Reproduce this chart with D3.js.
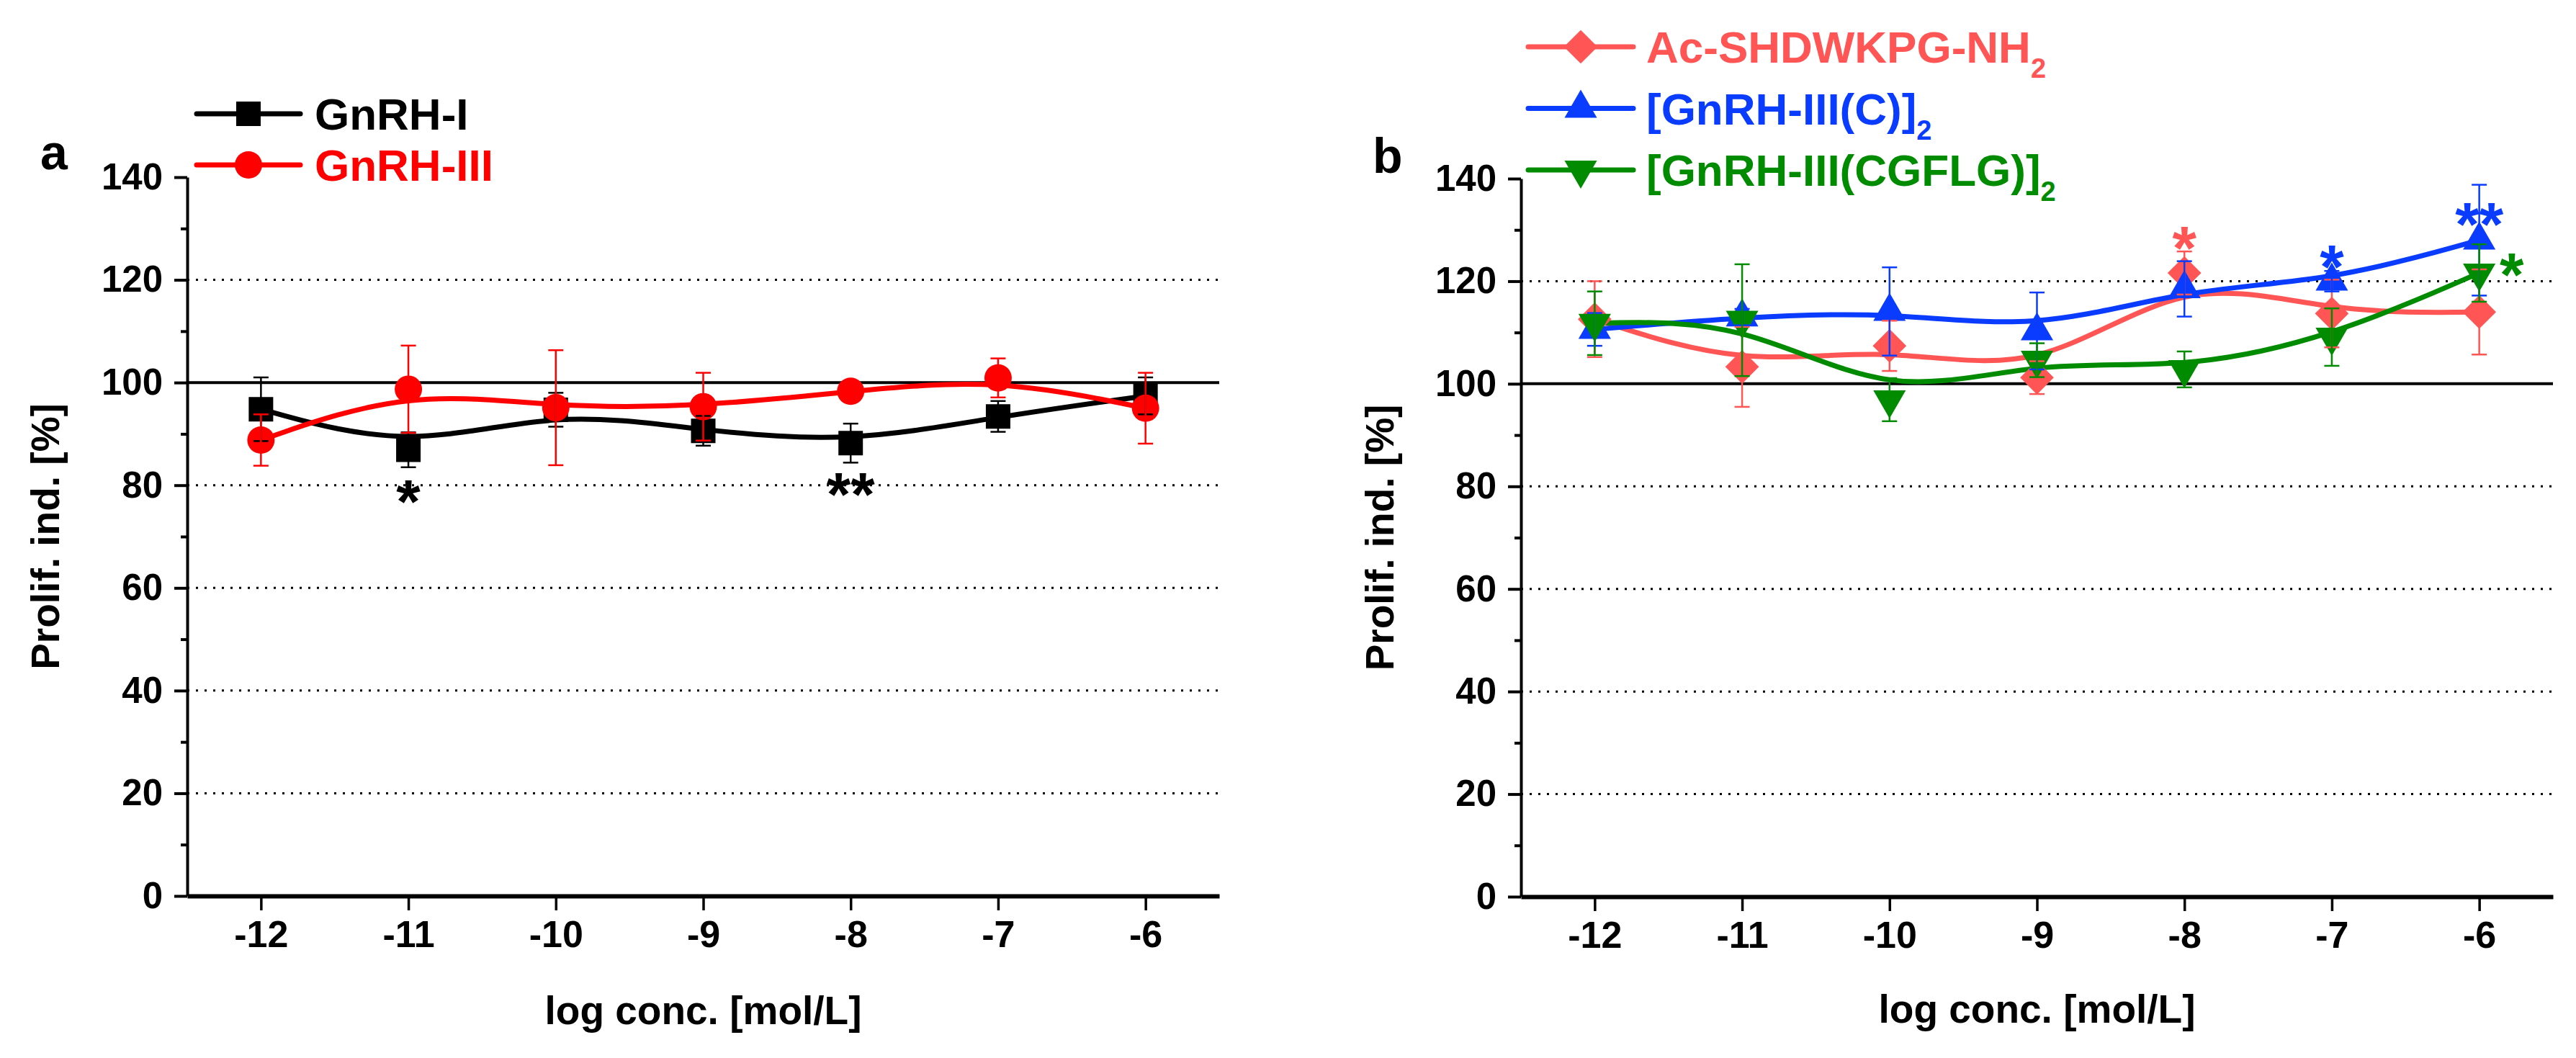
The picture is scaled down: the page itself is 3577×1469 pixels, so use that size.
<!DOCTYPE html>
<html>
<head>
<meta charset="utf-8">
<script src="https://cdn.jsdelivr.net/npm/d3@7"></script>
<style>
  body { margin: 0; background: #fff; }
  svg { display: block; font-family: "Liberation Sans", Arial, sans-serif; font-weight: bold; }
</style>
</head>
<body>
<svg id="chart" width="3577" height="1469"></svg>
<script>
// values (log conc. [mol/L] vs proliferation index %)
const concentrations = [-12, -11, -10, -9, -8, -7, -6];
const yTicks = [0, 20, 40, 60, 80, 100, 120, 140];
const yMinorTicks = [10, 30, 50, 70, 90, 110, 130];
const gridValues = [20, 40, 60, 80, 120];

const gnrh1Mean = [94.8, 86.9, 94.7, 90.6, 88.2, 93.4, 97.4];
const gnrh1Err  = [6.2, 3.4, 3.3, 2.9, 3.8, 3.0, 3.6];
const gnrh3Mean = [88.8, 98.7, 95.1, 95.3, 98.3, 100.9, 95.0];
const gnrh3Err  = [5.0, 8.5, 11.2, 6.6, 1.2, 3.8, 6.9];

const acMean    = [112.6, 103.3, 107.4, 101.2, 121.6, 113.7, 114.0];
const acErr     = [7.4, 7.8, 4.9, 3.2, 4.2, 6.6, 8.3];
const dimerCMean = [110.6, 113.0, 114.1, 110.3, 118.5, 120.0, 128.0];
const dimerCErr  = [3.2, 1.6, 8.6, 7.5, 5.4, 2.0, 10.8];
const dimerGMean = [111.8, 112.4, 96.9, 104.6, 102.8, 109.1, 121.6];
const dimerGErr  = [6.2, 10.9, 4.2, 3.3, 3.5, 5.6, 5.6];

const starsA = [
  { x: -11, y: 79.4, text: "*", color: "#000" },
  { x: -8, y: 80.8, text: "**", color: "#000" }
];
const starsB = [
  { x: -8, y: 129.1, text: "*", color: "#FF5555" },
  { x: -7, y: 125.4, text: "*", color: "#0A3CFF" },
  { x: -6, y: 133.7, text: "**", color: "#0A3CFF" },
  { x: -5.78, y: 123.9, text: "*", color: "#008B00" }
];

const svg = d3.select("#chart");

const shapes = {
  square: { type: d3.symbolSquare, size: 1156, rotate: 0 },
  circle: { type: d3.symbolCircle, size: 1134, rotate: 0 },
  diamond: { type: d3.symbolSquare, size: 1090, rotate: 45 },
  up: { type: d3.symbolTriangle, size: 880, rotate: 0 },
  down: { type: d3.symbolTriangle, size: 880, rotate: 180 }
};

const drawMarker = (g, cx, cy, shape, color) => {
  const s = shapes[shape];
  g.append("path")
    .attr("d", d3.symbol().type(s.type).size(s.size)())
    .attr("transform", `translate(${cx},${cy}) rotate(${s.rotate})`)
    .attr("fill", color);
};

const drawPanel = (cfg) => {
  const x = d3.scaleLinear().domain([-12.5, -5.5]).range([cfg.left, cfg.right]);
  const y = d3.scaleLinear().domain([0, 140]).range([cfg.bottom, cfg.top]);
  const g = svg.append("g");

  // dotted grid
  g.selectAll(".grid")
    .data(gridValues)
    .enter()
    .append("line")
    .attr("x1", cfg.left).attr("x2", cfg.right)
    .attr("y1", d => y(d)).attr("y2", d => y(d))
    .attr("stroke", "#000")
    .attr("stroke-width", 3)
    .attr("stroke-dasharray", "3,9");

  // 100 % reference
  g.append("line")
    .attr("x1", cfg.left).attr("x2", cfg.right)
    .attr("y1", y(100)).attr("y2", y(100))
    .attr("stroke", "#000")
    .attr("stroke-width", 4);

  // y axis
  const yAxis = g.append("g")
    .attr("transform", `translate(${cfg.left},0)`)
    .call(d3.axisLeft(y).tickValues(yTicks).tickSize(18).tickSizeOuter(0).tickPadding(16));
  yAxis.select(".domain").attr("stroke-width", 4);
  yAxis.selectAll(".tick line").attr("stroke-width", 4);
  yAxis.selectAll("text").attr("font-size", 51).attr("font-family", null);

  g.append("g")
    .attr("transform", `translate(${cfg.left},0)`)
    .call(d3.axisLeft(y).tickValues(yMinorTicks).tickSize(9).tickSizeOuter(0).tickFormat(""))
    .call(a => a.select(".domain").remove())
    .selectAll(".tick line").attr("stroke-width", 4);

  // x axis
  const xAxis = g.append("g")
    .attr("transform", `translate(0,${cfg.bottom})`)
    .call(d3.axisBottom(x).tickValues(concentrations).tickFormat(d => String(d))
      .tickSize(20).tickSizeOuter(0).tickPadding(14));
  xAxis.select(".domain").attr("stroke-width", 6);
  xAxis.selectAll(".tick line").attr("stroke-width", 3.5);
  xAxis.selectAll("text").attr("font-size", 52).attr("font-family", null);

  // axis titles
  g.append("text")
    .attr("transform", `translate(${cfg.yTitleX},${(cfg.top + cfg.bottom) / 2}) rotate(-90)`)
    .attr("text-anchor", "middle")
    .attr("font-size", 55)
    .text("Prolif. ind. [%]");

  g.append("text")
    .attr("x", x(-9))
    .attr("y", cfg.xTitleY)
    .attr("text-anchor", "middle")
    .attr("font-size", 55)
    .text("log conc. [mol/L]");

  g.append("text")
    .attr("x", cfg.letterX)
    .attr("y", cfg.letterY)
    .attr("font-size", 68)
    .text(cfg.letter);

  const line = d3.line()
    .x((d, i) => x(concentrations[i]))
    .y(d => y(d))
    .curve(d3.curveBasis);

  cfg.series.forEach(s => {
    g.append("path")
      .datum(s.mean)
      .attr("fill", "none")
      .attr("stroke", s.color)
      .attr("stroke-width", 7)
      .attr("d", line);
  });

  cfg.series.forEach(s => {
    s.mean.forEach((m, i) => drawMarker(g, x(concentrations[i]), y(m), s.shape, s.color));
  });

  cfg.series.forEach(s => {
    const eb = g.append("g").attr("stroke", s.color).attr("stroke-width", 2.5);
    s.mean.forEach((m, i) => {
      const cx = x(concentrations[i]);
      const hi = y(m + s.err[i]), lo = y(m - s.err[i]);
      eb.append("line").attr("x1", cx).attr("x2", cx).attr("y1", hi).attr("y2", lo);
      eb.append("line").attr("x1", cx - 10.5).attr("x2", cx + 10.5).attr("y1", hi).attr("y2", hi);
      eb.append("line").attr("x1", cx - 10.5).attr("x2", cx + 10.5).attr("y1", lo).attr("y2", lo);
    });
  });

  g.selectAll(".star")
    .data(cfg.stars)
    .enter()
    .append("text")
    .attr("x", d => x(d.x))
    .attr("y", d => y(d.y) + 48)
    .attr("text-anchor", "middle")
    .attr("font-size", 86)
    .attr("fill", d => d.color)
    .text(d => d.text);

  // legend
  const lg = g.append("g");
  cfg.series.forEach((s, i) => {
    const ly = cfg.legend.y0 + i * cfg.legend.step;
    lg.append("line")
      .attr("x1", cfg.legend.x1).attr("x2", cfg.legend.x2)
      .attr("y1", ly).attr("y2", ly)
      .attr("stroke", s.color)
      .attr("stroke-width", 7)
      .attr("stroke-linecap", "round");
    drawMarker(lg, (cfg.legend.x1 + cfg.legend.x2) / 2, ly, s.shape, s.color);
    const t = lg.append("text")
      .attr("x", cfg.legend.textX)
      .attr("y", ly + 22)
      .attr("font-size", 62)
      .attr("fill", s.color)
      .text(s.name);
    if (s.sub) {
      t.append("tspan").attr("font-size", 38).attr("dy", 21).text(s.sub);
    }
  });
};

drawPanel({
  left: 260, right: 1693, top: 246, bottom: 1244,
  yTitleX: 82, xTitleY: 1422, letter: "a", letterX: 56, letterY: 235,
  legend: { x1: 273, x2: 417, textX: 437, y0: 158, step: 71 },
  stars: starsA,
  series: [
    { name: "GnRH-I", color: "#000000", shape: "square", mean: gnrh1Mean, err: gnrh1Err },
    { name: "GnRH-III", color: "#FF0000", shape: "circle", mean: gnrh3Mean, err: gnrh3Err }
  ]
});

drawPanel({
  left: 2112, right: 3545, top: 248, bottom: 1245,
  yTitleX: 1935, xTitleY: 1420, letter: "b", letterX: 1906, letterY: 240,
  legend: { x1: 2122, x2: 2268, textX: 2286, y0: 65, step: 85.5 },
  stars: starsB,
  series: [
    { name: "Ac-SHDWKPG-NH", sub: "2", color: "#FF5555", shape: "diamond", mean: acMean, err: acErr },
    { name: "[GnRH-III(C)]", sub: "2", color: "#0A3CFF", shape: "up", mean: dimerCMean, err: dimerCErr },
    { name: "[GnRH-III(CGFLG)]", sub: "2", color: "#008B00", shape: "down", mean: dimerGMean, err: dimerGErr }
  ]
});
</script>
</body>
</html>
